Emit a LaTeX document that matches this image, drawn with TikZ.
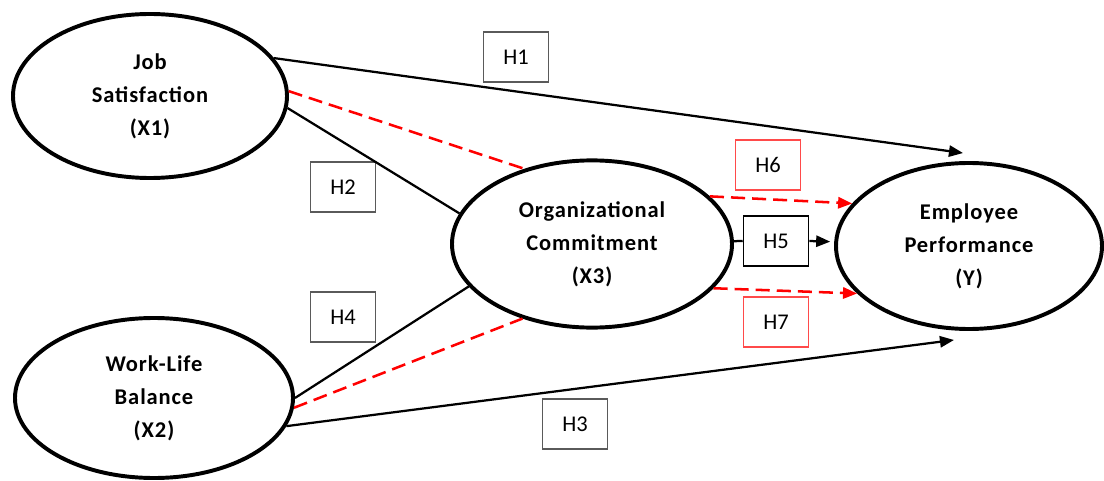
\documentclass[tikz,border=0pt]{standalone}
\usepackage{fontspec}
\setmainfont{Carlito}
\newfontfamily\varfont[LetterSpace=4]{Carlito}
\usetikzlibrary{calc,shapes.geometric,arrows.meta}
\definecolor{boxgray}{HTML}{5A5A5A}
\definecolor{boxred}{HTML}{FF4A4A}
\tikzset{
  latent/.style={ellipse, draw, line width=2.8pt, inner sep=0pt, align=center,
    font=\varfont\bfseries\fontsize{16}{23.5}\selectfont},
  hyp/.style={rectangle, draw=boxgray, line width=1.1pt, minimum width=1.625cm,
    minimum height=1.25cm, inner sep=0pt, font=\fontsize{16}{19}\selectfont},
  conn/.style={line width=1.6pt},
  med/.style={red, line width=1.8pt, dash pattern=on 10pt off 5pt},
  arr/.style={-{Triangle[length=10pt,width=8pt]}}
}

\begin{document}
\begin{tikzpicture}
\useasboundingbox (0,0) rectangle (27.6,12);

%潜在変数
\node[latent, minimum width=6.85cm, minimum height=4.1cm] (X1) at (3.75,9.6) {Job\\Satisfaction\\(X1)};
\node[latent, minimum width=6.95cm, minimum height=4.0cm] (X2) at (3.85,2.05) {Work-Life\\Balance\\(X2)};
\node[latent, minimum width=7.0cm, minimum height=4.18cm] (X3) at (14.8,5.9) {Organizational\\Commitment\\(X3)};
\node[latent, minimum width=6.65cm, minimum height=4.15cm] (Y) at (24.225,5.85) {Employee\\Performance\\(Y)};

%仮説ラベル
\node[hyp] (H1) at (12.9,10.575) {H1};
\node[hyp] (H2) at (8.575,7.325) {H2};
\node[hyp] (H3) at (14.375,1.4) {H3};
\node[hyp] (H4) at (8.575,4.075) {H4};
\node[hyp, draw=black] (H5) at (19.4,5.975) {H5};
\node[hyp, draw=boxred] (H6) at (19.2,7.875) {H6};
\node[hyp, draw=boxred] (H7) at (19.4,3.95) {H7};

%Yの外側の矢印先
\coordinate (T1) at ($(Y.north)+(-0.15,0.2)$);
\coordinate (T3) at ($(Y.south)+(-0.375,-0.225)$);

%直接効果
\draw[conn, arr] (X1.17) -- (T1);
\draw[conn] (X1.355) -- (X3.167);
\draw[conn] (X2.0) -- (X3.199);
\draw[conn, arr] (X2.348) -- (T3);
\draw[conn] (H5.west) -- (X3);
\draw[conn, arr, shorten >=0.1cm] (H5.east) -- (Y);

%媒介効果（赤の破線）
\draw[med] (X1.2) -- (X3.132);
\draw[med] (X2.356) -- (X3.227);
\draw[med, arr] (X3.22) -- (Y.160);
\draw[med, arr] (X3.340) -- (Y.203);
\end{tikzpicture}
\end{document}
